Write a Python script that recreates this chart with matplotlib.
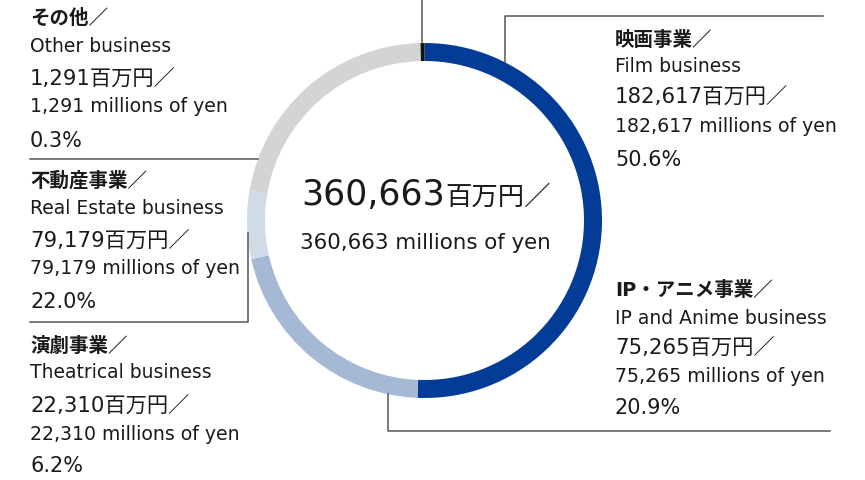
import matplotlib
matplotlib.use("Agg")
import matplotlib.pyplot as plt

# segment data (millions of yen)
segments_jp = ["映画事業", "IP・アニメ事業", "演劇事業", "不動産事業", "その他"]
segments_en = ["Film business", "IP and Anime business", "Theatrical business",
               "Real Estate business", "Other business"]
values = [182617, 75265, 22310, 79179, 1291]
shares = [50.6, 20.9, 6.2, 22.0, 0.3]
colors = ["#023c96", "#a5b9d4", "#d0dbe8", "#d4d4d4", "#111111"]
total = 360663

FONT = ["DejaVu Sans", "Noto Sans CJK JP"]
TXT = "#1a1a1a"
LINE = "#555555"

W, H = 865, 480
fig = plt.figure(figsize=(W / 100, H / 100), dpi=100)
ax = fig.add_axes([0, 0, 1, 1])


def Y(y):
    # work in image pixels, top-left origin
    return H - y


cx, cy, r = 424.5, 220.5, 177.5

ax.pie(values, colors=colors, startangle=90, counterclock=False,
       center=(cx, Y(cy)), radius=r,
       wedgeprops=dict(width=18, linewidth=0))

ax.set_xlim(0, W)
ax.set_ylim(0, H)
ax.set_aspect("equal")
ax.axis("off")

# leader lines
lw = 1.1
ax.plot([421.7, 421.7], [Y(0), Y(43)], color=LINE, lw=lw)                  # other
ax.plot([505, 505, 823], [Y(62), Y(15.5), Y(15.5)], color=LINE, lw=lw)       # film
ax.plot([258, 30], [Y(159), Y(159)], color=LINE, lw=lw)                      # real estate
ax.plot([247.7, 247.7, 30], [Y(233), Y(322), Y(322)], color=LINE, lw=lw)     # theatrical
ax.plot([387.7, 387.7, 830], [Y(394), Y(431), Y(431)], color=LINE, lw=lw)    # IP

# label blocks: (segment index, x, y of each row)
blocks = [
    (4, 30, [18, 47, 80, 107, 141]),
    (3, 30, [181, 208, 242, 268, 302]),
    (2, 30, [347, 373, 407, 434, 466]),
    (0, 615, [40, 67, 98, 127, 160]),
    (1, 615, [291, 318, 349, 377, 408]),
]

for i, x, ys in blocks:
    ax.text(x, Y(ys[0]), segments_jp[i] + "／", family=FONT, fontsize=14,
            fontweight="bold", color=TXT, va="center")
    ax.text(x, Y(ys[1]), segments_en[i], family=FONT, fontsize=13.5,
            color=TXT, va="center")
    ax.text(x, Y(ys[2]), f"{values[i]:,}百万円／", family=FONT, fontsize=15.3,
            color=TXT, va="center")
    ax.text(x, Y(ys[3]), f"{values[i]:,} millions of yen", family=FONT,
            fontsize=13.6, color=TXT, va="center")
    ax.text(x, Y(ys[4]), f"{shares[i]:.1f}%", family=FONT, fontsize=15,
            color=TXT, va="center")

# centre total
ax.text(445, Y(205), f"{total:,}", family=FONT, fontsize=25, color=TXT,
        ha="right", va="baseline")
ax.text(445, Y(205), "百万円／", family=FONT, fontsize=19, color=TXT,
        ha="left", va="baseline")
ax.text(425, Y(243), f"{total:,} millions of yen", family=FONT, fontsize=15.4,
        color=TXT, ha="center", va="center")

fig.savefig("out.png", dpi=100)
